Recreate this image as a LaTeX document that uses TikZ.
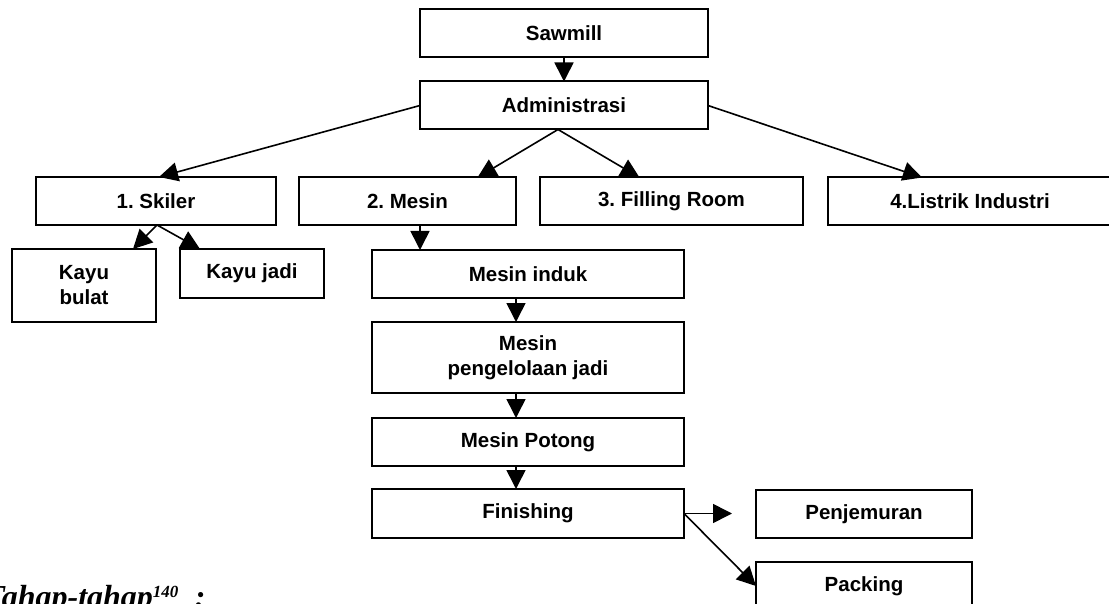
\documentclass[tikz,border=0pt]{standalone}
\usepackage{fontspec}
\setmainfont{Liberation Serif}
\setsansfont{Liberation Sans}
\usetikzlibrary{arrows.meta}
\frenchspacing
\tikzset{
  box/.style={draw, line width=2pt, minimum height=48pt, inner sep=0pt, outer sep=0pt,
    font=\sffamily\bfseries\fontsize{20.5}{25}\selectfont, align=center},
  conn/.style={line width=1.6pt, -{Triangle[length=19pt,width=19pt]}}
}
\begin{document}
\begin{tikzpicture}[x=1pt,y=-1pt]
\useasboundingbox (0,0) rectangle (1109,604);
% nodes
\node[box, minimum width=288pt] (saw) at (564,33.5) {Sawmill};
\node[box, minimum width=288pt] (adm) at (564,105.5) {Administrasi};
\node[box, minimum width=240pt] (ski) at (156,201) {1. Skiler};
\node[box, minimum width=217pt] (mes) at (407.5,201.5) {2. Mesin};
\node[box, minimum width=263pt] (fil) at (671.5,201.5) {3. Filling Room};
\node[box, minimum width=284pt] (lis) at (970,201.5) {4.Listrik Industri};
\node[box, minimum width=144pt, minimum height=73pt] (kb) at (84,285.5) {Kayu\\bulat};
\node[box, minimum width=144pt, minimum height=49pt] (kj) at (252,273.5) {Kayu jadi};
\node[box, minimum width=312pt] (ind) at (528,274) {Mesin induk};
\node[box, minimum width=312pt, minimum height=71pt] (pen) at (528,357.5) {Mesin\\pengelolaan jadi};
\node[box, minimum width=312pt] (pot) at (528,442) {Mesin Potong};
\node[box, minimum width=312pt, minimum height=49pt] (fin) at (528,513.5) {Finishing};
\node[box, minimum width=216pt] (jem) at (864,514) {Penjemuran};
\node[box, minimum width=216pt] (pac) at (864,586) {Packing};
% bottom text
\node[anchor=base west, inner sep=0pt, font=\bfseries\itshape\fontsize{32}{36}\selectfont] (tah) at (-15,607)
  {Tahap-tahap\textsuperscript{\fontsize{17}{17}\selectfont 140}\ \ :};
% connectors
\draw[conn] (saw.south) -- (adm.north);
\draw[conn] (adm.west) -- ([xshift=3pt]ski.north);
\draw[conn] ([xshift=-6pt]adm.south) -- ([xshift=70pt]mes.north);
\draw[conn] ([xshift=-6pt]adm.south) -- ([xshift=-32pt]fil.north);
\draw[conn] (adm.east) -- ([xshift=-48pt]lis.north);
\draw[conn] ([xshift=1pt]ski.south) -- ([xshift=49pt]kb.north);
\draw[conn] ([xshift=1pt]ski.south) -- ([xshift=-52pt]kj.north);
\draw[conn] ([xshift=12.5pt]mes.south) -- ([xshift=-108pt]ind.north);
\draw[conn] ([xshift=-12pt]ind.south) -- ([xshift=-12pt]pen.north);
\draw[conn] ([xshift=-12pt]pen.south) -- ([xshift=-12pt]pot.north);
\draw[conn] ([xshift=-12pt]pot.south) -- ([xshift=-12pt]fin.north);
\draw[conn, shorten >=24pt] (fin.east) -- (fin.east -| jem.west);
\draw[conn] (fin.east) -- (pac.west);
\end{tikzpicture}
\end{document}
